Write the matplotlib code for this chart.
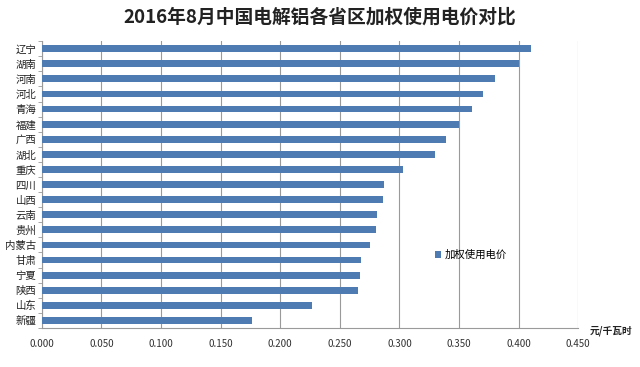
import matplotlib
matplotlib.use("Agg")
from matplotlib import pyplot as plt
import numpy as np

plt.rcParams['font.family'] = ['Noto Sans CJK SC', 'DejaVu Sans']

# 省份（从上到下）和加权使用电价（元/千瓦时）
provinces = ['辽宁', '湖南', '河南', '河北', '青海', '福建', '广西', '湖北', '重庆', '四川',
             '山西', '云南', '贵州', '内蒙古', '甘肃', '宁夏', '陕西', '山东', '新疆']
prices = [0.410, 0.400, 0.380, 0.370, 0.361, 0.350, 0.339, 0.330, 0.303, 0.287,
          0.286, 0.281, 0.280, 0.275, 0.268, 0.267, 0.265, 0.227, 0.176]
xticks = [0.0, 0.05, 0.10, 0.15, 0.20, 0.25, 0.30, 0.35, 0.40, 0.45]

bar_color = '#4f7bb3'
grid_color = '#9a9a9a'

fig = plt.figure(figsize=(6.4, 3.67), dpi=100)
ax = fig.add_axes([0.0652, 0.1063, 0.9036 - 0.0652, 0.888 - 0.1063])

y = np.arange(len(provinces))
ax.barh(y, prices, height=0.45, color=bar_color, zorder=3, label='加权使用电价')

ax.set_xlim(0, 0.45)
ax.set_ylim(len(provinces) - 0.5, -0.5)
ax.set_xticks(xticks)
ax.set_xticklabels(['%.3f' % v for v in xticks], fontsize=7, color='#333333')
ax.set_yticks(y)
ax.set_yticklabels(provinces, fontsize=7.5, color='#222222')
ax.tick_params(axis='y', length=0, pad=4)
ax.tick_params(axis='x', length=0, pad=8)
ax.set_yticks(np.arange(-0.5, len(provinces), 1), minor=True)
ax.tick_params(axis='y', which='minor', length=3, color=grid_color)

ax.grid(axis='x', color=grid_color, linewidth=0.8, zorder=0)
for s in ['top', 'right']:
    ax.spines[s].set_visible(False)
ax.spines['left'].set_color(grid_color)
ax.spines['bottom'].set_color(grid_color)

ax.legend(loc='center left', bbox_to_anchor=(0.715, 0.254), frameon=False,
          fontsize=7.5, handlelength=0.6, handleheight=0.6, handletextpad=0.4)

fig.text(0.5, 0.953, '2016年8月中国电解铝各省区加权使用电价对比', ha='center', va='center',
         fontsize=13.5, fontweight='bold', color='#222222')
fig.text(0.922, 0.1, '元/千瓦时', ha='left', va='center', fontsize=7,
         fontweight='bold', color='#222222')

fig.savefig('out.png', dpi=100)
